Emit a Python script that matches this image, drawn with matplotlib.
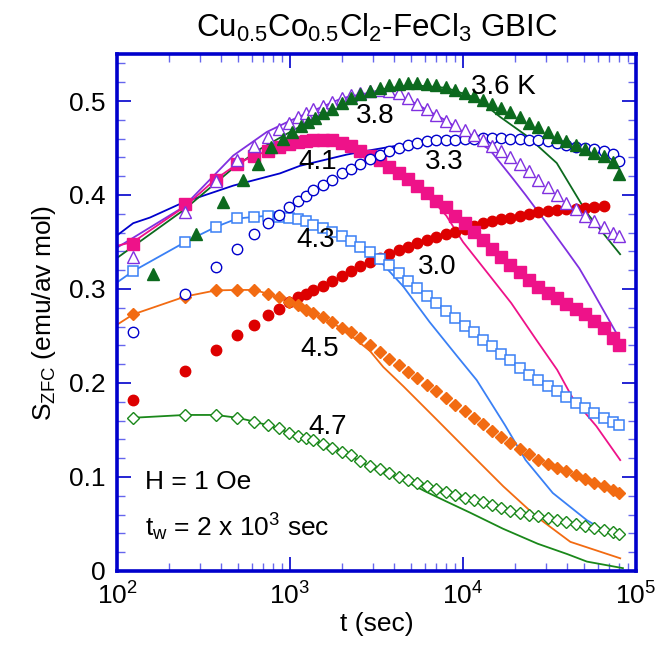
import numpy as np
import matplotlib
matplotlib.use("Agg")
import matplotlib.pyplot as plt
from matplotlib.ticker import FixedLocator, MultipleLocator, LogLocator, NullFormatter

plt.rcParams['font.family'] = ['Liberation Sans', 'DejaVu Sans']
plt.rcParams['mathtext.fontset'] = 'custom'
plt.rcParams['mathtext.rm'] = 'Liberation Sans'
plt.rcParams['mathtext.it'] = 'Liberation Sans'
plt.rcParams['mathtext.bf'] = 'Liberation Sans:bold'

# measurement times (sec)
t_early = [124, 248, 372, 496, 620, 744, 868, 992, 1116, 1240, 1364]
t_early_36 = [161, 285, 409, 533, 657, 781, 905, 1029, 1153, 1277, 1401]
t_late = [1550, 1750, 2000, 2250, 2550, 2900, 3300, 3750, 4250, 4800, 5450,
          6200, 7000, 7950, 9000, 10200, 11500, 13000, 14700, 16600, 18800,
          21300, 24100, 27300, 30900, 35000, 39600, 44800, 50700, 57400,
          65000, 73500, 80000]

# S_ZFC data
s30 = [0.182, 0.213, 0.235, 0.251, 0.262, 0.272, 0.279, 0.286, 0.291, 0.295, 0.299,
       0.303, 0.308, 0.314, 0.319, 0.324, 0.329, 0.333, 0.337, 0.341, 0.345, 0.349,
       0.352, 0.355, 0.358, 0.361, 0.364, 0.367, 0.370, 0.372, 0.374, 0.376, 0.378,
       0.380, 0.382, 0.383, 0.384, 0.385, 0.385, 0.386, 0.387, 0.388]
s33 = [0.254, 0.295, 0.323, 0.343, 0.358, 0.370, 0.379, 0.387, 0.394, 0.399, 0.405,
       0.411, 0.416, 0.423, 0.428, 0.433, 0.438, 0.443, 0.447, 0.450, 0.453, 0.455,
       0.457, 0.458, 0.459, 0.459, 0.460, 0.460, 0.461, 0.461, 0.461, 0.460, 0.460,
       0.459, 0.458, 0.457, 0.455, 0.453, 0.451, 0.450, 0.449, 0.447, 0.444, 0.436]
s36 = [0.316, 0.358, 0.393, 0.416, 0.433, 0.451, 0.460, 0.467, 0.473, 0.478, 0.482,
       0.487, 0.492, 0.498, 0.503, 0.507, 0.511, 0.514, 0.517, 0.518, 0.519, 0.519,
       0.518, 0.517, 0.515, 0.512, 0.508, 0.505, 0.501, 0.497, 0.493, 0.488, 0.483,
       0.477, 0.472, 0.467, 0.462, 0.457, 0.453, 0.449, 0.445, 0.441, 0.435, 0.422]
s38 = [0.334, 0.382, 0.415, 0.437, 0.452, 0.462, 0.470, 0.477, 0.483, 0.487, 0.491,
       0.495, 0.499, 0.503, 0.506, 0.509, 0.511, 0.512, 0.511, 0.508, 0.503, 0.497,
       0.491, 0.485, 0.479, 0.474, 0.469, 0.464, 0.458, 0.452, 0.447, 0.440, 0.433,
       0.425, 0.416, 0.408, 0.400, 0.392, 0.385, 0.378, 0.372, 0.366, 0.360, 0.356]
s41 = [0.348, 0.390, 0.416, 0.433, 0.442, 0.447, 0.451, 0.454, 0.456, 0.457, 0.458,
       0.458, 0.458, 0.455, 0.452, 0.447, 0.442, 0.437, 0.430, 0.423, 0.417, 0.410,
       0.402, 0.394, 0.387, 0.378, 0.370, 0.361, 0.352, 0.343, 0.334, 0.326, 0.318,
       0.310, 0.302, 0.296, 0.290, 0.284, 0.279, 0.273, 0.266, 0.258, 0.248, 0.240]
s43 = [0.319, 0.350, 0.366, 0.375, 0.377, 0.378, 0.377, 0.376, 0.374, 0.372, 0.368,
       0.365, 0.361, 0.356, 0.351, 0.345, 0.339, 0.332, 0.325, 0.317, 0.309, 0.301,
       0.293, 0.285, 0.277, 0.269, 0.261, 0.254, 0.246, 0.239, 0.231, 0.224, 0.216,
       0.209, 0.203, 0.197, 0.191, 0.185, 0.179, 0.173, 0.168, 0.163, 0.158, 0.155]
s45 = [0.273, 0.292, 0.2985, 0.299, 0.299, 0.295, 0.291, 0.286, 0.2825, 0.2775, 0.274,
       0.270, 0.265, 0.259, 0.254, 0.248, 0.240, 0.233, 0.226, 0.219, 0.212, 0.205,
       0.198, 0.191, 0.184, 0.177, 0.170, 0.163, 0.156, 0.149, 0.143, 0.136, 0.130,
       0.124, 0.118, 0.114, 0.110, 0.106, 0.102, 0.098, 0.094, 0.090, 0.086, 0.083]
s47 = [0.163, 0.166, 0.166, 0.163, 0.159, 0.155, 0.152, 0.147, 0.144, 0.141, 0.139,
       0.135, 0.131, 0.127, 0.123, 0.117, 0.112, 0.108, 0.104, 0.100, 0.097, 0.094,
       0.090, 0.087, 0.084, 0.081, 0.078, 0.0755, 0.073, 0.070, 0.067, 0.064, 0.062,
       0.060, 0.058, 0.056, 0.054, 0.052, 0.050, 0.048, 0.046, 0.044, 0.041, 0.039]

# fitted curves (thin lines)
fit33_t = [100, 124, 155, 241, 470, 875, 1140, 2130, 2780, 4000, 6000, 9000, 13000,
           20000, 30000, 45000, 65000, 80000]
fit33_s = [0.357, 0.370, 0.376, 0.392, 0.410, 0.423, 0.431, 0.443, 0.447, 0.452,
           0.456, 0.459, 0.460, 0.460, 0.457, 0.451, 0.447, 0.440]
fit36_t = [100, 243, 472, 673, 1000, 2000, 3300, 5000, 8000, 12000, 16400, 23300,
           34800, 51900, 80900]
fit36_s = [0.333, 0.384, 0.429, 0.449, 0.467, 0.497, 0.512, 0.517, 0.514, 0.503,
           0.483, 0.463, 0.434, 0.381, 0.337]
fit38_t = [100, 241, 470, 733, 1000, 2000, 3300, 5000, 8000, 11000, 14300, 19500,
           23000, 31000, 40000, 47000, 54000, 77000]
fit38_s = [0.344, 0.387, 0.442, 0.467, 0.479, 0.503, 0.511, 0.500, 0.479, 0.462,
           0.448, 0.417, 0.400, 0.368, 0.340, 0.322, 0.303, 0.253]
fit41_t = [100, 124, 248, 372, 496, 620, 1000, 1400, 2000, 3300, 5000, 7000, 8000,
           10000, 14000, 19000, 26500, 35000, 43000, 59000, 81000]
fit41_s = [0.346, 0.350, 0.388, 0.417, 0.433, 0.442, 0.454, 0.457, 0.455, 0.436,
           0.412, 0.390, 0.378, 0.350, 0.316, 0.285, 0.246, 0.214, 0.184, 0.154, 0.118]
fit43_t = [100, 124, 248, 372, 496, 744, 1000, 1364, 2000, 3300, 4500, 6400, 9200,
           12000, 17500, 23000, 33000, 52000, 64000, 75000]
fit43_s = [0.307, 0.319, 0.350, 0.366, 0.375, 0.378, 0.376, 0.368, 0.354, 0.330,
           0.303, 0.265, 0.229, 0.203, 0.155, 0.118, 0.083, 0.054, 0.044, 0.040]
fit45_t = [100, 124, 248, 372, 496, 620, 744, 992, 1364, 2000, 2900, 3460, 4520,
           7050, 10960, 17100, 26500, 41700, 81000]
fit45_s = [0.262, 0.273, 0.292, 0.2985, 0.299, 0.299, 0.295, 0.286, 0.274, 0.258,
           0.234, 0.217, 0.1965, 0.161, 0.1255, 0.090, 0.058, 0.031, 0.0135]
fit47_t = [124, 248, 372, 496, 620, 744, 992, 1364, 2000, 2900, 4520, 6000, 8000,
           11000, 17000, 27000, 40000, 52000, 84000]
fit47_s = [0.163, 0.166, 0.166, 0.163, 0.159, 0.155, 0.147, 0.139, 0.127, 0.111,
           0.097, 0.085, 0.074, 0.062, 0.045, 0.029, 0.018, 0.010, 0.003]

c30 = '#DD0000'
c33 = '#0000CC'
c36 = '#0C6A1E'
c38 = '#8030E0'
c41 = '#EE1289'
c43 = '#3A80F5'
c45 = '#F26B12'
c47 = '#1A881A'

fig = plt.figure(figsize=(6.6, 6.53), dpi=100)
ax = fig.add_axes([0.1773, 0.1256, 0.7864, 0.7917])

# fit lines
for ft, fs, c in [(fit33_t, fit33_s, c33), (fit36_t, fit36_s, c36), (fit38_t, fit38_s, c38),
                  (fit41_t, fit41_s, c41), (fit43_t, fit43_s, c43), (fit45_t, fit45_s, c45),
                  (fit47_t, fit47_s, c47)]:
    ax.plot(ft, fs, '-', color=c, lw=1.3, zorder=2)

# data
ax.plot(t_early + t_late[:len(s30) - 11], s30, 'o', color=c30, ms=7.5, mec=c30, zorder=3)
ax.plot(t_early + t_late, s43, 's', color=c43, ms=7.5, mfc='white', mew=1.1, zorder=3)
ax.plot(t_early + t_late, s47, 'D', color=c47, ms=6, mfc='white', mew=1.0, zorder=3)
ax.plot(t_early + t_late, s45, 'D', color=c45, ms=6.5, zorder=3)
ax.plot(t_early + t_late, s41, 's', color=c41, ms=8, zorder=3)
ax.plot(t_early + t_late, s33, 'o', color=c33, ms=7.5, mfc='white', mew=1.0, zorder=3)
ax.plot(t_early + t_late, s38, '^', color=c38, ms=8, mfc='white', mew=1.0, zorder=3)
ax.plot(t_early_36 + t_late, s36, '^', color=c36, ms=8, zorder=3)

ax.set_xscale('log')
ax.set_xlim(1e2, 1e5)
ax.set_ylim(0, 0.55)
ax.yaxis.set_major_locator(FixedLocator([0, 0.1, 0.2, 0.3, 0.4, 0.5]))
ax.set_yticklabels(['0', '0.1', '0.2', '0.3', '0.4', '0.5'])
ax.yaxis.set_minor_locator(MultipleLocator(0.02))
ax.xaxis.set_minor_locator(LogLocator(base=10, subs=np.arange(2, 10)))
ax.xaxis.set_minor_formatter(NullFormatter())

for sp in ax.spines.values():
    sp.set_color('#0000CC')
    sp.set_linewidth(2.6)
ax.tick_params(which='both', direction='in', top=True, right=True, colors='#0000CC',
               labelcolor='black', labelsize=19)
ax.tick_params(which='major', length=10, width=1.2, pad=8)
ax.tick_params(which='minor', length=6, width=1.0, color='#6666EE')

ax.set_xlabel('t (sec)', fontsize=19, labelpad=2)
ax.set_ylabel(r'S$_\mathrm{ZFC}$ (emu/av mol)', fontsize=19, labelpad=8)
ax.set_title(r'Cu$_\mathrm{0.5}$Co$_\mathrm{0.5}$Cl$_\mathrm{2}$-FeCl$_\mathrm{3}$ GBIC',
             fontsize=22.5, pad=12)

labels = [('3.6 K', 17000, 0.515), ('3.8', 3100, 0.484), ('4.1', 1450, 0.435),
          ('3.3', 7770, 0.435), ('4.3', 1410, 0.352), ('3.0', 7080, 0.323),
          ('4.5', 1490, 0.236), ('4.7', 1660, 0.153)]
for txt, x, y in labels:
    ax.text(x, y, txt, fontsize=20, ha='center', va='center', zorder=5)
ax.text(145, 0.095, 'H = 1 Oe', fontsize=19, ha='left', va='center')
ax.text(145, 0.047, r't$_\mathrm{w}$ = 2 x 10$^\mathrm{3}$ sec', fontsize=19,
        ha='left', va='center')

fig.savefig('out.png', dpi=100)
